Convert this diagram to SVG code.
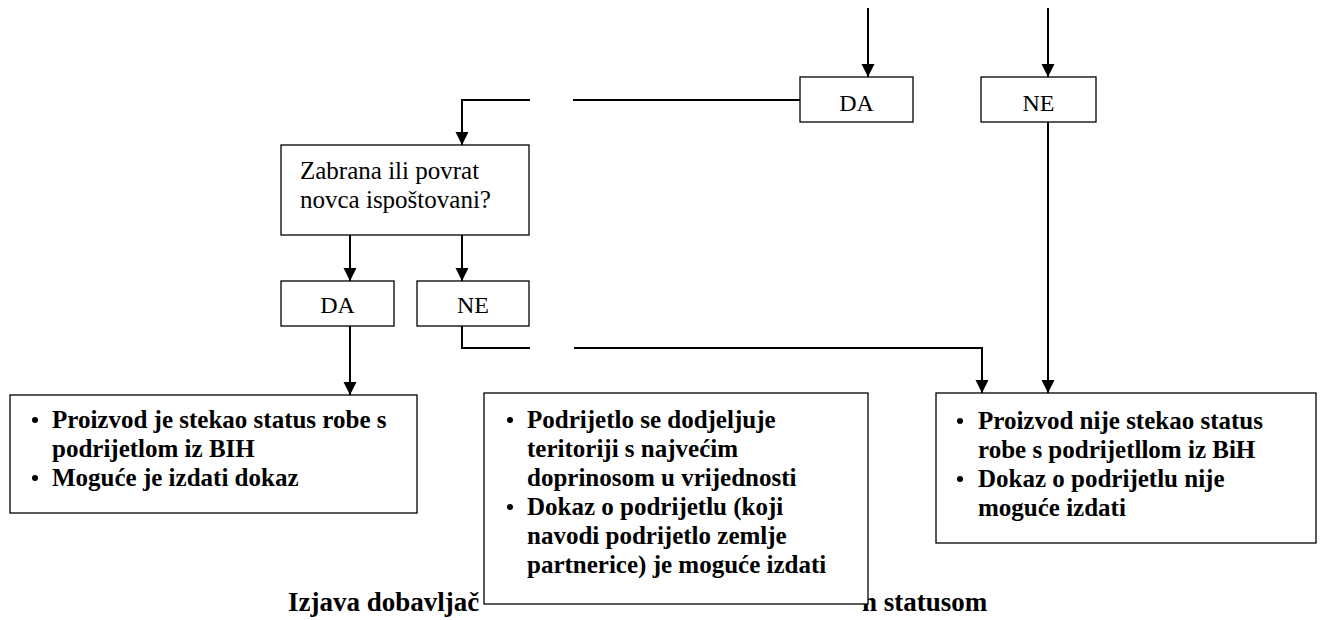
<svg xmlns="http://www.w3.org/2000/svg" width="1320" height="620" viewBox="0 0 1320 620">
<style>
text{font-family:'Liberation Serif',Tinos,'Times New Roman','Nimbus Roman','DejaVu Serif',serif;fill:#000}
.box{fill:#fff;stroke:#000;stroke-width:1.3}
.lbl{font-size:24px}
.q{font-size:25px}
.bt{font-size:25px;font-weight:bold}
.cap{font-size:27px;font-weight:bold}
.ln{fill:none;stroke:#000;stroke-width:2}
.dot{fill:#000}
</style>
<defs>
<marker id="ah" markerUnits="userSpaceOnUse" markerWidth="14" markerHeight="14" refX="13" refY="6.5" orient="auto">
<path d="M0,0 L13,6.5 L0,13 z" fill="#000"/>
</marker>
</defs>
<g id="caption">
<text class="cap" x="288" y="611">Izjava dobavljač</text>
<text class="cap" x="862" y="611">n statusom</text>
</g>
<g id="connectors">
<path class="ln" d="M868,8 V77" marker-end="url(#ah)"/>
<path class="ln" d="M1048,8 V77" marker-end="url(#ah)"/>
<path class="ln" d="M800,100 H573"/>
<path class="ln" d="M530,100 H462 V145" marker-end="url(#ah)"/>
<path class="ln" d="M350,235 V281" marker-end="url(#ah)"/>
<path class="ln" d="M462,235 V281" marker-end="url(#ah)"/>
<path class="ln" d="M350,326 V395" marker-end="url(#ah)"/>
<path class="ln" d="M462,326 V348 H530"/>
<path class="ln" d="M574,348 H982 V393" marker-end="url(#ah)"/>
<path class="ln" d="M1048,122 V393" marker-end="url(#ah)"/>
</g>
<g id="da-top">
<rect class="box" x="800" y="77" width="113" height="45"/>
<text class="lbl" x="856.5" y="111" text-anchor="middle">DA</text>
</g>
<g id="ne-top">
<rect class="box" x="981" y="77" width="115" height="45"/>
<text class="lbl" x="1038.5" y="111" text-anchor="middle">NE</text>
</g>
<g id="zabrana">
<rect class="box" x="281" y="145" width="248" height="90"/>
<text class="q" x="300" y="179">Zabrana ili povrat</text>
<text class="q" x="300" y="208">novca ispoštovani?</text>
</g>
<g id="da-mid">
<rect class="box" x="281" y="281" width="113" height="45"/>
<text class="lbl" x="337.5" y="313" text-anchor="middle">DA</text>
</g>
<g id="ne-mid">
<rect class="box" x="417" y="281" width="112" height="45"/>
<text class="lbl" x="473" y="313" text-anchor="middle">NE</text>
</g>
<g id="result-left">
<rect class="box" x="10" y="395" width="407" height="118"/>
<circle class="dot" cx="35" cy="420" r="3"/>
<text class="bt" x="52" y="428">Proizvod je stekao status robe s</text>
<text class="bt" x="52" y="457">podrijetlom iz BIH</text>
<circle class="dot" cx="35" cy="478" r="3"/>
<text class="bt" x="52" y="486">Moguće je izdati dokaz</text>
</g>
<g id="result-middle">
<rect class="box" x="484" y="393" width="384" height="211"/>
<circle class="dot" cx="510" cy="420" r="3"/>
<text class="bt" x="527" y="428">Podrijetlo se dodjeljuje</text>
<text class="bt" x="527" y="457">teritoriji s najvećim</text>
<text class="bt" x="527" y="486">doprinosom u vrijednosti</text>
<circle class="dot" cx="510" cy="507" r="3"/>
<text class="bt" x="527" y="515">Dokaz o podrijetlu (koji</text>
<text class="bt" x="527" y="544">navodi podrijetlo zemlje</text>
<text class="bt" x="527" y="573">partnerice) je moguće izdati</text>
</g>
<g id="result-right">
<rect class="box" x="936" y="393" width="380" height="150"/>
<circle class="dot" cx="960" cy="421" r="3"/>
<text class="bt" x="978" y="429">Proizvod nije stekao status</text>
<text class="bt" x="978" y="458">robe s podrijetllom iz BiH</text>
<circle class="dot" cx="960" cy="479" r="3"/>
<text class="bt" x="978" y="487">Dokaz o podrijetlu nije</text>
<text class="bt" x="978" y="516">moguće izdati</text>
</g>
</svg>
